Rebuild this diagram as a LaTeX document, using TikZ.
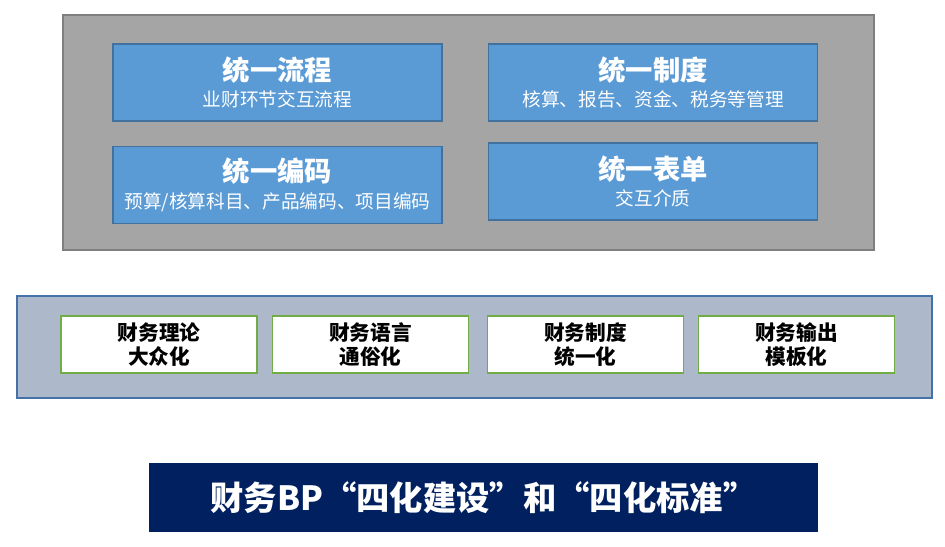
\documentclass[tikz,border=0pt]{standalone}
\usepackage{fontspec}
\setmainfont{Noto Sans CJK SC}
\begin{document}
\begin{tikzpicture}[x=0.75pt,y=-0.75pt,
  blok/.style={draw=blue edge, fill=blue area, line width=1.2pt, minimum width=246.75pt, minimum height=57.75pt, inner sep=0pt, text=white, align=center, font=\fontsize{14pt}{20pt}\selectfont},
  pill/.style={draw=green edge, fill=white, line width=1.2pt, minimum width=147pt, minimum height=42.75pt, inner sep=0pt, align=center, font=\fontsize{15.5pt}{18pt}\selectfont\bfseries}]
\def\kop#1{{\fontsize{20.5pt}{20pt}\selectfont\bfseries #1}}

\definecolor{gray area}{HTML}{A5A5A5}
\definecolor{gray edge}{HTML}{7F7F7F}
\definecolor{blue area}{HTML}{5B9BD5}
\definecolor{blue edge}{HTML}{41719C}
\definecolor{band area}{HTML}{ADB9CA}
\definecolor{band edge}{HTML}{4472A8}
\definecolor{green edge}{HTML}{70AD47}
\definecolor{navy}{HTML}{002060}
\useasboundingbox (0,0) rectangle (945,546);

% upper block
\draw[fill=gray area, draw=gray edge, line width=1.2pt] (63,15) rectangle (874,250);
\node[blok] (liucheng) at (277.5,82.5) {\kop{统一流程}\\业财环节交互流程};
\node[blok] (zhidu)    at (653,82.5)   {\kop{统一制度}\\核算、报告、资金、税务等管理};
\node[blok] (bianma)   at (277.5,185)  {\kop{统一编码}\\预算/核算科目、产品编码、项目编码};
\node[blok] (biaodan)  at (653,181.5)  {\kop{统一表单}\\交互介质};

% middle band
\draw[fill=band area, draw=band edge, line width=1.2pt] (17,296) rectangle (932,398);
\node[pill] (lilun)  at (159,344.5)   {财务理论\\大众化};
\node[pill] (yuyan)  at (370.5,344.5) {财务语言\\通俗化};
\node[pill] (zhdu)   at (585.5,344.5) {财务制度\\统一化};
\node[pill] (shuchu) at (796.5,344.5) {财务输出\\模板化};

% banner
\node[fill=navy, text=white, minimum width=501.75pt, minimum height=51.75pt, inner sep=0pt, font=\fontsize{25pt}{25pt}\selectfont\bfseries] (titel) at (483.5,497.5) {财务BP“四化建设”和“四化标准”};
\end{tikzpicture}
\end{document}
